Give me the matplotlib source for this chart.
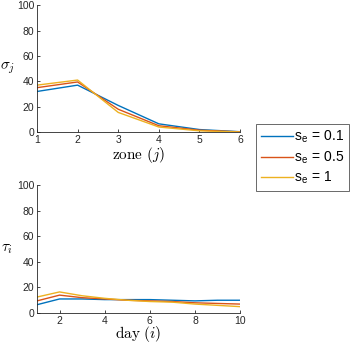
import matplotlib
matplotlib.use("Agg")
import matplotlib.pyplot as plt
from matplotlib.lines import Line2D

plt.rcParams['font.family'] = ['Liberation Sans', 'DejaVu Sans']
plt.rcParams['mathtext.fontset'] = 'cm'

zones = [1, 2, 3, 4, 5, 6]
days = [1, 2, 3, 4, 5, 6, 7, 8, 9, 10]
sigma_01 = [32, 37, 21, 6.5, 2, 0.3]
sigma_05 = [35, 39.5, 18, 5, 1.5, 0.2]
sigma_1 = [37, 41, 15.5, 4, 1, 0.1]
tau_01 = [6.5, 11, 11, 10.5, 10.5, 10.5, 10, 9.5, 10, 10]
tau_05 = [9.5, 14, 12, 11, 10, 9.5, 9, 8, 7.5, 7]
tau_1 = [12.5, 16.5, 13.5, 11.5, 10, 9, 8.5, 7, 6, 5]
labels = ['0.1', '0.5', '1']
colors = ['#0072BD', '#D95319', '#EDB120']

fig = plt.figure(figsize=(3.57, 3.44), dpi=100)
ax1 = fig.add_axes([0.1036, 0.616, 0.569, 0.369])
ax2 = fig.add_axes([0.1036, 0.090, 0.569, 0.372])

for ax in (ax1, ax2):
    for s in ['top', 'right']:
        ax.spines[s].set_visible(False)
    for s in ['left', 'bottom']:
        ax.spines[s].set_color('#262626')
        ax.spines[s].set_linewidth(0.6)
    ax.tick_params(direction='in', length=2.5, width=0.6, colors='#262626',
                   labelsize=7.5, pad=2)
    ax.set_ylim(0, 100)
    ax.set_yticks([0, 20, 40, 60, 80, 100])

for ys, c in zip([sigma_01, sigma_05, sigma_1], colors):
    ax1.plot(zones, ys, color=c, lw=1.0)
ax1.set_xlim(1, 6)
ax1.set_xticks(zones)
ax1.set_xlabel(r'$\mathrm{zone}\ (j)$', fontsize=11, labelpad=0)
ax1.set_ylabel(r'$\sigma_j$', fontsize=11, rotation=0, labelpad=7, va='center')

for ys, c in zip([tau_01, tau_05, tau_1], colors):
    ax2.plot(days, ys, color=c, lw=1.0)
ax2.set_xlim(1, 10)
ax2.set_xticks([2, 4, 6, 8, 10])
ax2.set_xlabel(r'$\mathrm{day}\ (i)$', fontsize=11, labelpad=-1)
ax2.set_ylabel(r'$\tau_i$', fontsize=11, rotation=0, labelpad=7, va='center')

handles = [Line2D([], [], color=c, lw=1.0) for c in colors]
leg = fig.legend(handles, ['s$_\\mathregular{e}$ = ' + l for l in labels],
                 loc='upper left', bbox_to_anchor=(256/357, 1 - 124/344),
                 fontsize=10, frameon=True, fancybox=False, edgecolor='#262626',
                 handlelength=2.3, handletextpad=0.1, borderpad=0.35,
                 labelspacing=0.3, borderaxespad=0)
leg.get_frame().set_linewidth(0.6)

fig.savefig('out.png', dpi=100)
